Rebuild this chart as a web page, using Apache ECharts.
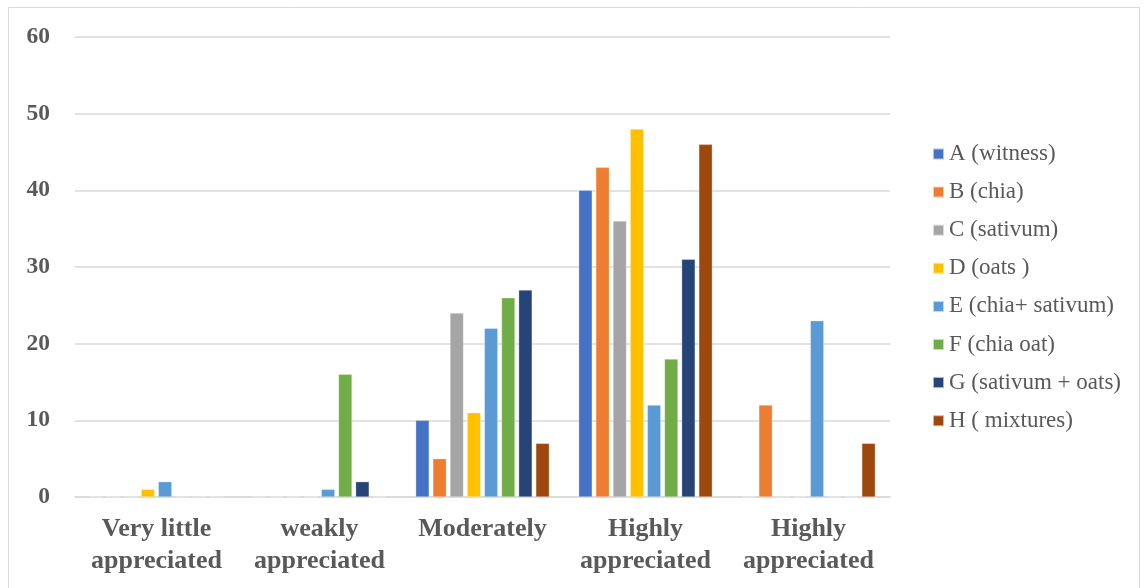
<!DOCTYPE html>
<html>
<head>
<meta charset="utf-8">
<script src="https://cdn.jsdelivr.net/npm/echarts@6/dist/echarts.min.js"></script>
<style>
  html, body { margin: 0; padding: 0; background: #fff; }
  #chart { width: 1147px; height: 588px; }
</style>
</head>
<body>
<div id="chart"></div>
<script>
// Appreciation categories on the x axis
const categories = ['Very little\nappreciated', 'weakly\nappreciated', 'Moderately', 'Highly\nappreciated', 'Highly\nappreciated'];

// Treatments and their counts per category
const seriesNames = ['A (witness)', 'B (chia)', 'C (sativum)', 'D (oats )', 'E (chia+ sativum)', 'F (chia oat)', 'G (sativum + oats)', 'H ( mixtures)'];
const valuesA = [0, 0, 10, 40, 0];
const valuesB = [0, 0, 5, 43, 12];
const valuesC = [0, 0, 24, 36, 0];
const valuesD = [1, 0, 11, 48, 0];
const valuesE = [2, 1, 22, 12, 23];
const valuesF = [0, 16, 26, 18, 0];
const valuesG = [0, 2, 27, 31, 0];
const valuesH = [0, 0, 7, 46, 7];

const yTicks = { min: 0, max: 60, interval: 10 };
const colors = ['#4472C4', '#ED7D31', '#A5A5A5', '#FFC000', '#5B9BD5', '#70AD47', '#264478', '#9E480E'];

const allValues = [valuesA, valuesB, valuesC, valuesD, valuesE, valuesF, valuesG, valuesH];
const serif = '"Liberation Serif", "DejaVu Serif", serif';

const chart = echarts.init(document.getElementById('chart'));
chart.setOption({
  animation: false,
  color: colors,
  graphic: [{
    type: 'rect',
    shape: { x: 8.5, y: 7.5, width: 1131, height: 590 },
    style: { fill: 'none', stroke: '#d9d9d9', lineWidth: 1 }
  }],
  grid: { left: 75, right: 257, top: 37, bottom: 91 },
  legend: {
    orient: 'vertical',
    left: 927,
    top: 137.5,
    itemWidth: 11,
    itemHeight: 11,
    itemGap: 15.1,
    icon: 'rect',
    data: seriesNames,
    textStyle: { fontFamily: serif, fontSize: 23, lineHeight: 23, color: '#595959' }
  },
  xAxis: {
    type: 'category',
    data: categories,
    axisLine: { lineStyle: { color: '#d9d9d9', width: 1.5 } },
    axisTick: { show: false },
    axisLabel: {
      interval: 0,
      margin: 16,
      fontFamily: serif,
      fontSize: 26,
      fontWeight: 'bold',
      color: '#595959',
      lineHeight: 32
    }
  },
  yAxis: {
    type: 'value',
    min: yTicks.min,
    max: yTicks.max,
    interval: yTicks.interval,
    axisLine: { show: false },
    axisTick: { show: false },
    splitLine: { lineStyle: { color: '#d9d9d9', width: 1.5 } },
    axisLabel: {
      margin: 25,
      fontFamily: serif,
      fontSize: 23.5,
      fontWeight: 'bold',
      color: '#595959'
    }
  },
  series: seriesNames.map((name, i) => ({
    name,
    type: 'bar',
    data: allValues[i],
    barGap: '27%',
    barCategoryGap: '18%',
    itemStyle: { borderColor: 'rgba(255,255,255,0.6)', borderWidth: 0.5 }
  }))
});
</script>
</body>
</html>
